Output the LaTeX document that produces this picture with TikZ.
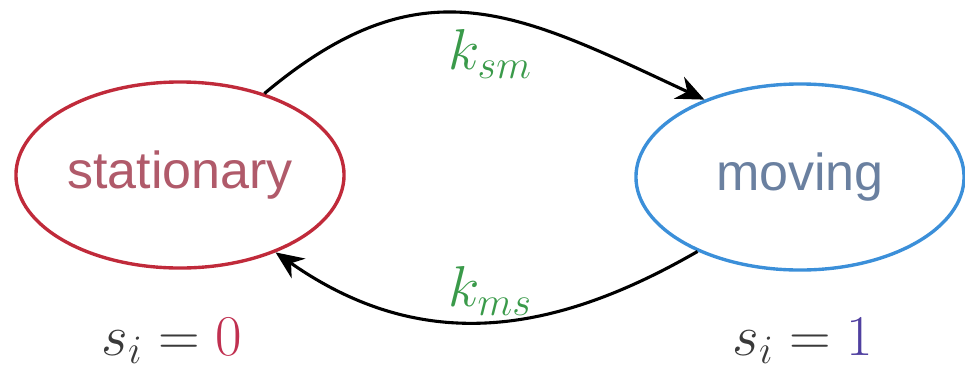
\RequirePackage{fix-cm}
\documentclass[tikz,border=0pt]{standalone}
\usepackage{fontspec}
\newfontfamily\statefont{Liberation Sans}
\usetikzlibrary{arrows.meta,shapes.geometric}

\definecolor{statred}{HTML}{C02A3A}
\definecolor{stattext}{HTML}{B05A6A}
\definecolor{movblue}{HTML}{3B8FD9}
\definecolor{movtext}{HTML}{6A80A0}
\definecolor{rategreen}{HTML}{3A9A4A}
\definecolor{zerored}{HTML}{C03050}
\definecolor{onepurple}{HTML}{5040A0}
\definecolor{labelgrey}{HTML}{3A3A3A}

\begin{document}
\begin{tikzpicture}[x=0.025cm,y=-0.025cm]
\tikzset{
  statenode/.style={ellipse,draw,line width=2.4pt,minimum width=8.2cm,minimum height=4.65cm,inner sep=0pt,font=\statefont\fontsize{37}{40}\selectfont},
  directed/.style={-{Stealth[length=7mm,width=6mm]},line width=2.2pt},
  mathlabel/.style={font=\fontsize{41}{46}\selectfont}
}
\useasboundingbox (0,0) rectangle (965,370);
\node[statenode,draw=statred,text=stattext] (n_stat) at (180,175) {stationary};
\node[statenode,draw=movblue,text=movtext] (n_mov) at (800,177) {moving};
\node[mathlabel,text=rategreen] (n_ksm) at (490,54) {$k_{sm}$};
\node[mathlabel,text=rategreen] (n_kms) at (490,291) {$k_{ms}$};
\node[mathlabel,text=labelgrey] (n_s0) at (172,341) {$s_i=\textcolor{zerored}{0}$};
\node[mathlabel,text=labelgrey] (n_s1) at (803,341) {$s_i=\textcolor{onepurple}{1}$};
\draw[directed] (n_stat.44) to[out=40,in=155,looseness=1.2] (n_mov.141);
\draw[directed] (n_mov.216) to[out=210,in=-35,looseness=1.05] (n_stat.321);
\end{tikzpicture}
\end{document}
